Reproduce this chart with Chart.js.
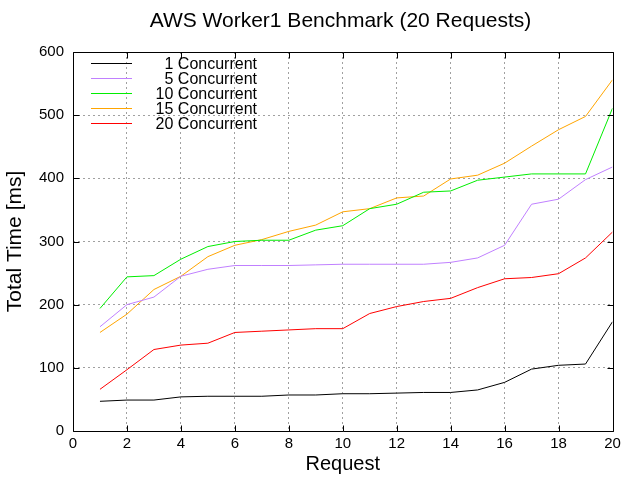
<!DOCTYPE html>
<html>
<head>
<meta charset="utf-8">
<title>AWS Worker1 Benchmark</title>
<script src="https://cdn.jsdelivr.net/npm/chart.js@4/dist/chart.umd.min.js"></script>
<style>
    html, body { margin: 0; padding: 0; background: #ffffff; }
    #wrap { width: 640px; height: 480px; }
</style>
</head>
<body>
<div id="wrap"><canvas id="benchChart" width="640" height="480"></canvas></div>
<script>
// Request index on the x axis
const requests = [1, 2, 3, 4, 5, 6, 7, 8, 9, 10, 11, 12, 13, 14, 15, 16, 17, 18, 19, 20];

// Series names and colours (gnuplot default palette)
const seriesLabels = ['1 Concurrent', '5 Concurrent', '10 Concurrent', '15 Concurrent', '20 Concurrent'];
const seriesColors = ['#000000', '#c080ff', '#00ee00', '#ffa500', '#ff0000'];

// Total time in ms
const conc1  = [47, 49, 49, 54, 55, 55, 55, 57, 57, 59, 59, 60, 61, 61, 65, 77, 98, 104, 106, 173];
const conc5  = [165, 200, 212, 245, 256, 262, 262, 262, 263, 264, 264, 264, 264, 267, 274, 294, 359, 367, 398, 418];
const conc10 = [194, 244, 246, 272, 292, 300, 302, 302, 318, 325, 352, 359, 378, 380, 397, 402, 407, 407, 407, 511];
const conc15 = [156, 185, 224, 245, 276, 294, 303, 316, 326, 347, 352, 369, 372, 399, 405, 424, 451, 477, 498, 556];
const conc20 = [66, 97, 129, 136, 139, 156, 158, 160, 162, 162, 186, 197, 205, 210, 227, 241, 243, 249, 274, 315];

const seriesValues = [conc1, conc5, conc10, conc15, conc20];

// Axis ranges / tick steps
const xRange = [0, 20];
const xStep = 2;
const yRange = [0, 600];
const yStep = 100;

const chartTitle = 'AWS Worker1 Benchmark (20 Requests)';

const FONT = '"Liberation Sans", Arial, Helvetica, sans-serif';
Chart.defaults.font.family = FONT;
Chart.defaults.color = '#000000';

// Frame round the plot with inward ticks on all four sides (gnuplot look)
const frameTicks = {
    id: 'frameTicks',
    afterDatasetsDraw(chart) {
        const { ctx, chartArea: a, scales } = chart;
        const L = Math.round(a.left) + 0.5, R = Math.round(a.right) + 0.5;
        const T = Math.round(a.top) + 0.5, B = Math.round(a.bottom) + 0.5;
        const len = 6;
        ctx.save();
        ctx.strokeStyle = '#000000';
        ctx.lineWidth = 1;
        ctx.setLineDash([]);
        ctx.beginPath();
        ctx.rect(L, T, R - L, B - T);
        scales.x.ticks.forEach(t => {
            const px = Math.round(scales.x.getPixelForValue(t.value)) + 0.5;
            ctx.moveTo(px, B); ctx.lineTo(px, B - len);
            ctx.moveTo(px, T); ctx.lineTo(px, T + len);
        });
        scales.y.ticks.forEach(t => {
            const py = Math.round(scales.y.getPixelForValue(t.value)) + 0.5;
            ctx.moveTo(L, py); ctx.lineTo(L + len, py);
            ctx.moveTo(R, py); ctx.lineTo(R - len, py);
        });
        ctx.stroke();
        ctx.restore();
    }
};

// Title centred the way gnuplot does it (not over the full canvas)
const plotTitle = {
    id: 'plotTitle',
    afterDraw(chart) {
        const { ctx } = chart;
        ctx.save();
        ctx.font = '21px ' + FONT;
        ctx.fillStyle = '#000000';
        ctx.textAlign = 'center';
        ctx.textBaseline = 'middle';
        ctx.fillText(chartTitle, 340.5, 21);
        ctx.restore();
    }
};

// Key inside the plot, top-left, text right-aligned like gnuplot
const gnuKey = {
    id: 'gnuKey',
    afterDraw(chart) {
        const { ctx } = chart;
        ctx.save();
        ctx.font = '16px ' + FONT;
        ctx.textAlign = 'right';
        ctx.textBaseline = 'middle';
        chart.data.datasets.forEach((ds, i) => {
            const y = 63.5 + i * 15;
            ctx.strokeStyle = ds.borderColor;
            ctx.lineWidth = 1;
            ctx.beginPath();
            ctx.moveTo(91, y);
            ctx.lineTo(132, y);
            ctx.stroke();
            ctx.fillStyle = '#000000';
            ctx.fillText(ds.label, 257, y + 1);
        });
        ctx.restore();
    }
};

const gridOpts = {
    color: '#a0a0a0',
    lineWidth: (c) => (c.tick && (c.index === 0 || c.index === c.chart.scales[c.scale.id].ticks.length - 1)) ? 0 : 1,
    drawTicks: false
};

const datasets = seriesLabels.map((label, i) => ({
    label,
    data: requests.map((r, j) => ({ x: r, y: seriesValues[i][j] })),
    borderColor: seriesColors[i],
    backgroundColor: seriesColors[i],
    borderWidth: 1,
    pointRadius: 0,
    tension: 0,
    fill: false
}));

new Chart(document.getElementById('benchChart'), {
    type: 'line',
    data: { datasets },
    options: {
        responsive: false,
        animation: false,
        layout: { padding: { left: 0, right: 27.5, top: 52, bottom: 0 } },
        plugins: {
            legend: { display: false },
            tooltip: { enabled: false },
            title: { display: false }
        },
        scales: {
            x: {
                type: 'linear',
                min: xRange[0],
                max: xRange[1],
                ticks: { stepSize: xStep, font: { size: 15 }, color: '#000000', padding: 4, maxRotation: 0 },
                grid: gridOpts,
                border: { display: false, dash: [2, 3] },
                title: {
                    display: true,
                    text: 'Request',
                    color: '#000000',
                    font: { size: 20 },
                    padding: { top: 0, bottom: 4 }
                },
                afterFit: (s) => { s.height = 49; }
            },
            y: {
                type: 'linear',
                min: yRange[0],
                max: yRange[1],
                ticks: { stepSize: yStep, font: { size: 15 }, color: '#000000', padding: 9 },
                grid: gridOpts,
                border: { display: false, dash: [2, 3] },
                title: {
                    display: true,
                    text: 'Total Time [ms]',
                    color: '#000000',
                    font: { size: 21 },
                    padding: { top: 3, bottom: 0 }
                },
                afterFit: (s) => { s.width = 73; }
            }
        }
    },
    plugins: [frameTicks, plotTitle, gnuKey]
});
</script>
</body>
</html>
